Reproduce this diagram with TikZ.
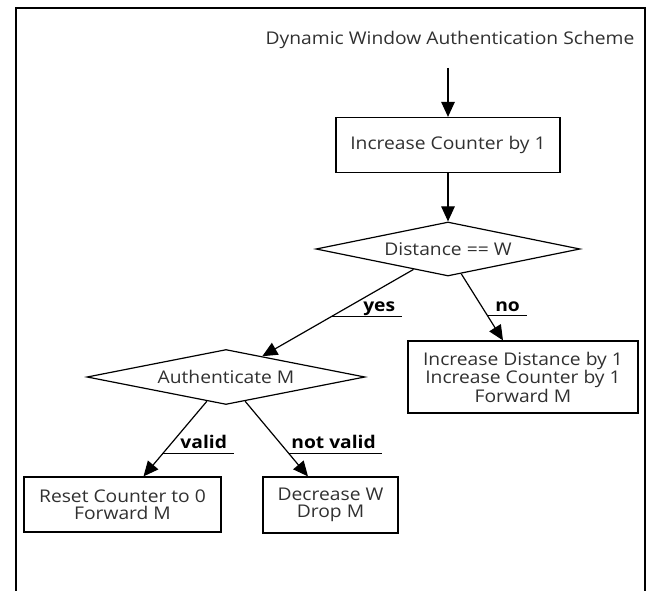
\documentclass[tikz,border=0pt]{standalone}
\usepackage{fontspec}
\setmainfont{Open Sans}[FakeStretch=1.1]
\usetikzlibrary{shapes.geometric,arrows.meta,calc}
\definecolor{txt}{HTML}{303030}

\begin{document}
\begin{tikzpicture}[x=1pt,y=-1pt,
  every node/.style={font=\fontsize{17.5}{17}\selectfont, text=txt},
  proc/.style={draw=black, line width=1.2pt, rectangle, align=center, inner sep=0pt},
  cond/.style={draw=black, line width=1.2pt, diamond, aspect=5, inner sep=0pt},
  flow/.style={line width=1.2pt, draw=black, -{Triangle[length=15pt,width=13.5pt]}},
  uline/.style={line width=1.2pt, draw=black},
  tag/.style={font=\bfseries\fontsize{17.5}{17}\selectfont, text=black, anchor=base east, inner sep=0pt}]

\useasboundingbox (0,0) rectangle (651,591);

% outer frame, open at the bottom
\draw[line width=2.6pt] (16,600) -- (16,8) -- (645,8) -- (645,600);

% title and entry point
\node (title) at (450,40) {Dynamic Window Authentication Scheme};
\coordinate (entry) at (448,68);

% steps and decisions
\node[proc, minimum width=224pt, minimum height=55pt] (inc) at (448,145) {Increase Counter by 1};
\node[cond, minimum width=264pt, minimum height=54pt] (dist) at (448,249) {Distance == W};
\node[cond, minimum width=278pt, minimum height=55pt] (auth) at (226,377) {Authenticate M};
\node[proc, minimum width=230pt, minimum height=72pt] (grow) at (523,377)
  {Increase Distance by 1\\Increase Counter by 1\\Forward M};
\node[proc, minimum width=197pt, minimum height=55pt] (reset) at (122.5,504.5)
  {Reset Counter to 0\\Forward M};
\node[proc, minimum width=135pt, minimum height=56pt] (shrink) at (330.5,505)
  {Decrease W\\Drop M};

% straight flow
\draw[flow] (entry) -- (inc.north);
\draw[flow] (inc.south) -- (dist.north);

% yes branch
\draw[flow] ($(dist.south)!0.26!(dist.west)$) -- ($(auth.north)!0.26!(auth.east)$)
  coordinate[pos=0.54] (yesx);
\draw[uline] (yesx) -- ++(70.5,0) coordinate (yesend);
\node[tag] at ($(yesend)+(-7,-4.5)$) {yes};

% no branch
\draw[flow] ($(dist.south)!0.1!(dist.east)$) -- ($(grow.north)+(-20,0)$)
  coordinate[pos=0.63] (nox);
\draw[uline] (nox) -- ++(39.5,0) coordinate (noend);
\node[tag] at ($(noend)+(-7,-4.5)$) {no};

% valid branch
\draw[flow] ($(auth.south)!0.137!(auth.west)$) -- ($(reset.north)+(21,0)$)
  coordinate[pos=0.69] (validx);
\draw[uline] (validx) -- ++(71,0) coordinate (validend);
\node[tag] at ($(validend)+(-7,-4.5)$) {valid};

% not valid branch
\draw[flow] ($(auth.south)!0.137!(auth.east)$) -- ($(shrink.north)+(-22.5,0)$)
  coordinate[pos=0.69] (invx);
\draw[uline] (invx) -- ++(93.5,0) coordinate (invend);
\node[tag] at ($(invend)+(-6,-4.5)$) {not valid};

\end{tikzpicture}
\end{document}
